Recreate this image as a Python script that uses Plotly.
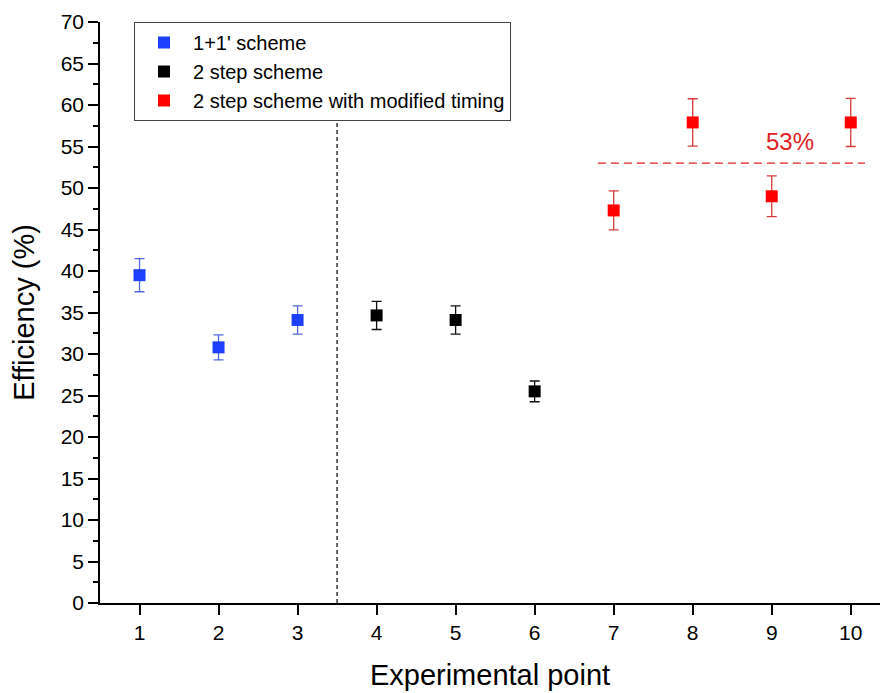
import plotly.graph_objects as go

# Data
x_blue = [1, 2, 3]
y_blue = [39.5, 30.8, 34.1]
e_blue = [2.0, 1.5, 1.7]

x_black = [4, 5, 6]
y_black = [34.65, 34.1, 25.5]
e_black = [1.7, 1.7, 1.25]

x_red = [7, 8, 9, 10]
y_red = [47.3, 57.9, 49.0, 57.9]
e_red = [2.35, 2.85, 2.45, 2.9]

names = ["1+1' scheme", "2 step scheme", "2 step scheme with modified timing"]
ref_level = 53
ref_x = [6.8, 10.18]
divider_x = 3.5

FONT = "Liberation Sans, Arial, sans-serif"

fig = go.Figure()

def add(xs, ys, es, name, mcolor, ecolor):
    fig.add_trace(go.Scatter(
        x=xs, y=ys, mode="markers", name=name,
        marker=dict(symbol="square", size=12, color=mcolor),
        error_y=dict(type="data", array=es, visible=True, color=ecolor,
                     thickness=1.3, width=5),
    ))

add(x_blue, y_blue, e_blue, names[0], "#1f3fff", "#4f68e0")
add(x_black, y_black, e_black, names[1], "#000000", "#111111")
add(x_red, y_red, e_red, names[2], "#ff0000", "#d83a3a")

fig.add_shape(type="line", x0=divider_x, x1=divider_x, y0=0, y1=70,
              xref="x", yref="y", line=dict(color="black", width=1.2, dash="4px,3px"),
              layer="below")
fig.add_shape(type="line", x0=ref_x[0], x1=ref_x[1], y0=ref_level, y1=ref_level,
              xref="x", yref="y", line=dict(color="#e02020", width=1.2, dash="8px,5px"),
              layer="below")
fig.add_annotation(x=9.23, y=55.6, text=f"{ref_level}%", showarrow=False,
                   font=dict(family=FONT, size=24, color="#e02020"))

fig.update_layout(
    width=881, height=693,
    margin=dict(l=100, r=1, t=22, b=90),
    paper_bgcolor="white", plot_bgcolor="white",
    font=dict(family=FONT, size=21, color="black"),
    showlegend=True,
    legend=dict(x=0.0436, y=1.0, xanchor="left", yanchor="top",
                bgcolor="white", bordercolor="#444444", borderwidth=1,
                font=dict(family=FONT, size=20, color="black"),
                itemwidth=48, tracegroupgap=0),
)

fig.update_xaxes(range=[0.5, 10.37], tickmode="linear", tick0=1, dtick=1,
                 showline=True, linecolor="black", linewidth=1.5,
                 ticks="outside", ticklen=10, tickwidth=1.5, tickcolor="black",
                 tickfont=dict(size=21),
                 showgrid=False, zeroline=False,
                 title=dict(text="Experimental point", font=dict(size=29), standoff=22))
fig.update_yaxes(range=[0, 70], tickmode="linear", tick0=0, dtick=5,
                 showline=True, linecolor="black", linewidth=1.5,
                 ticks="outside", ticklen=10, tickwidth=1.5, tickcolor="black",
                 tickfont=dict(size=21),
                 minor=dict(ticks="outside", ticklen=5, tickwidth=1.5, tickcolor="black", dtick=2.5),
                 showgrid=False, zeroline=False,
                 title=dict(text="Efficiency (%)", font=dict(size=29), standoff=18))

fig.write_html("out.html")
